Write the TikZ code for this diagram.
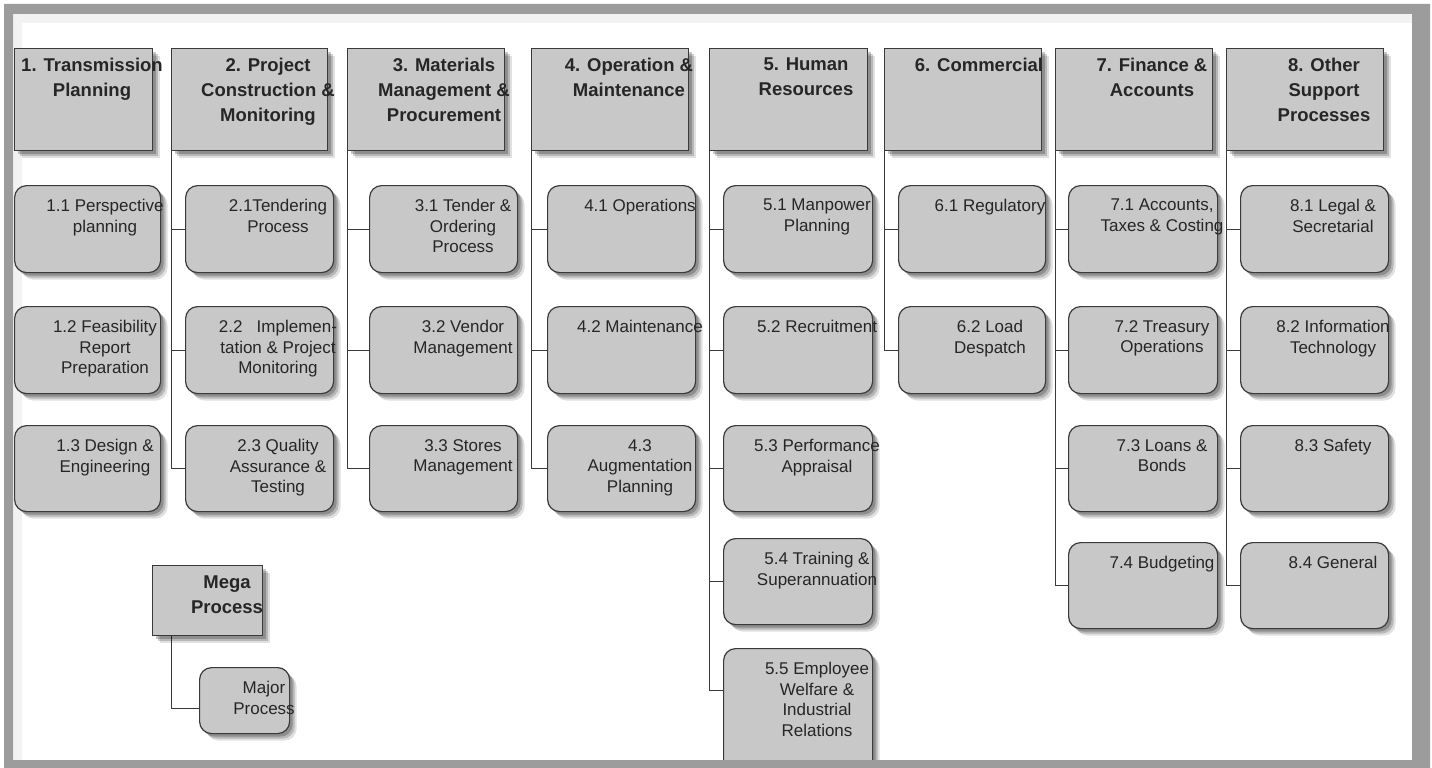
\documentclass[tikz,border=0pt]{standalone}
\usepackage{fontspec}
\setmainfont{Liberation Sans}
\usetikzlibrary{shadows,calc}
\definecolor{boxfill}{HTML}{C8C8C8}
\definecolor{boxline}{HTML}{3A3A3A}
\definecolor{framegray}{HTML}{9C9C9C}
\definecolor{txt}{HTML}{262626}
\pgfdeclarelayer{bg}
\pgfdeclarelayer{fg}
\pgfsetlayers{bg,main,fg}
\tikzset{
  shad/.style={drop shadow={shadow xshift=7pt,shadow yshift=-7pt,opacity=0.12,fill=black},
               drop shadow={shadow xshift=5pt,shadow yshift=-5pt,opacity=0.18,fill=black},
               drop shadow={shadow xshift=3pt,shadow yshift=-3pt,opacity=0.22,fill=black}},
  hdrbox/.style={draw=boxline,line width=1.3pt,fill=boxfill,shad,anchor=north west,inner sep=0pt,minimum height=102pt},
  subbox/.style={draw=boxline,line width=1.2pt,fill=boxfill,rounded corners=12pt,shad,anchor=north west,inner sep=0pt},
  htext/.style={anchor=north,inner sep=0pt,align=center,text=txt,font=\fontsize{18.5}{25}\selectfont\bfseries},
  stext/.style={anchor=north,inner sep=0pt,align=center,text=txt,font=\fontsize{17}{20.5}\selectfont},
  link/.style={draw=boxline,line width=0.9pt},
}
\begin{document}
\begin{tikzpicture}[x=1pt,y=-1pt]
\useasboundingbox (0,0) rectangle (1432,768);

% ---------- header boxes ----------
\node[hdrbox,minimum width=138pt] (h1) at (14,48) {};
\node[hdrbox,minimum width=156pt] (h2) at (171,48) {};
\node[hdrbox,minimum width=157pt] (h3) at (347,48) {};
\node[hdrbox,minimum width=157pt] (h4) at (531,48) {};
\node[hdrbox,minimum width=158pt] (h5) at (709,48) {};
\node[hdrbox,minimum width=157pt] (h6) at (884,48) {};
\node[hdrbox,minimum width=157pt] (h7) at (1055,48) {};
\node[hdrbox,minimum width=157pt] (h8) at (1226,48) {};
\node[hdrbox,minimum width=110pt,minimum height=70pt] (mega) at (152,565) {};

% ---------- sub boxes ----------
\foreach \c/\x/\w in {1/14/146,2/185/148,3/369/148,4/547/148,5/723/149,7/1068/149,8/1240/148}{
  \node[subbox,minimum width=\w pt,minimum height=87pt] (b\c1) at (\x,185) {};
  \node[subbox,minimum width=\w pt,minimum height=87pt] (b\c2) at (\x,306) {};
  \node[subbox,minimum width=\w pt,minimum height=86pt] (b\c3) at (\x,425) {};
}
\node[subbox,minimum width=147pt,minimum height=87pt] (b61) at (898,185) {};
\node[subbox,minimum width=147pt,minimum height=87pt] (b62) at (898,306) {};
\node[subbox,minimum width=149pt,minimum height=86pt] (b54) at (723,538) {};
\node[subbox,minimum width=149pt,minimum height=125pt] (b55) at (723,648) {};
\node[subbox,minimum width=149pt,minimum height=86pt] (b74) at (1068,542) {};
\node[subbox,minimum width=148pt,minimum height=86pt] (b84) at (1240,542) {};
\node[subbox,minimum width=90pt,minimum height=66pt] (major) at (199,667) {};

% ---------- background and connectors ----------
\begin{pgfonlayer}{bg}
\fill[white] (0,0) rectangle (1432,768);
\fill[black!5] (13,14) rectangle (1412,23);
\fill[black!5] (13,14) rectangle (22,760);
\foreach \c in {2,3,4,5,7,8}{
  \draw[link] (h\c.south west) |- (b\c1.west);
  \draw[link] (h\c.south west) |- (b\c2.west);
  \draw[link] (h\c.south west) |- (b\c3.west);
}
\draw[link] (h6.south west) |- (b61.west);
\draw[link] (h6.south west) |- (b62.west);
\draw[link] (h5.south west) |- (b54.west);
\draw[link] (h5.south west) |- ([yshift=-42pt]b55.north west);
\draw[link] (h7.south west) |- (b74.west);
\draw[link] (h8.south west) |- (b84.west);
\draw[link] ([xshift=19pt]mega.south west) |- ([yshift=-41pt]major.north west);
\end{pgfonlayer}

% ---------- header texts ----------
\node[htext] (t1) at (92,58) {1. Transmission\\Planning};
\node[htext] (t2) at (268,58) {2. Project\\Construction \&\\Monitoring};
\node[htext] (t3) at (444,58) {3. Materials\\Management \&\\Procurement};
\node[htext] (t4) at (629,58) {4. Operation \&\\Maintenance};
\node[htext] (t5) at (806,58) {5. Human\\Resources};
\node[htext] (t6) at (979,58) {6. Commercial};
\node[htext] (t7) at (1152,58) {7. Finance \&\\Accounts};
\node[htext] (t8) at (1324,58) {8. Other\\Support\\Processes};
\node[htext] (tm) at (227,576) {Mega\\Process};

% ---------- sub texts ----------
\node[stext] (s11) at (105,199) {1.1 Perspective\\planning};
\node[stext] (s12) at (105,320) {1.2 Feasibility\\Report\\Preparation};
\node[stext] (s13) at (105,439) {1.3 Design \&\\Engineering};
\node[stext] (s21) at (278,199) {2.1Tendering\\Process};
\node[stext] (s22) at (278,320) {2.2\ \ \ Implemen-\\tation \& Project\\Monitoring};
\node[stext] (s23) at (278,439) {2.3 Quality\\Assurance \&\\Testing};
\node[stext] (s31) at (463,199) {3.1 Tender \&\\Ordering\\Process};
\node[stext] (s32) at (463,320) {3.2 Vendor\\Management};
\node[stext] (s33) at (463,439) {3.3 Stores\\Management};
\node[stext] (s41) at (640,199) {4.1 Operations};
\node[stext] (s42) at (640,320) {4.2 Maintenance};
\node[stext] (s43) at (640,439) {4.3\\Augmentation\\Planning};
\node[stext] (s51) at (817,199) {5.1 Manpower\\Planning};
\node[stext] (s52) at (817,320) {5.2 Recruitment};
\node[stext] (s53) at (817,439) {5.3 Performance\\Appraisal};
\node[stext] (s54) at (817,552) {5.4 Training \&\\Superannuation};
\node[stext] (s55) at (817,662) {5.5 Employee\\Welfare \&\\Industrial\\Relations};
\node[stext] (s61) at (990,199) {6.1 Regulatory};
\node[stext] (s62) at (990,320) {6.2 Load\\Despatch};
\node[stext] (s71) at (1162,199) {7.1 Accounts,\\Taxes \& Costing};
\node[stext] (s72) at (1162,320) {7.2 Treasury\\Operations};
\node[stext] (s73) at (1162,439) {7.3 Loans \&\\Bonds};
\node[stext] (s74) at (1162,556) {7.4 Budgeting};
\node[stext] (s81) at (1333,199) {8.1 Legal \&\\Secretarial};
\node[stext] (s82) at (1333,320) {8.2 Information\\Technology};
\node[stext] (s83) at (1333,439) {8.3 Safety};
\node[stext] (s84) at (1333,556) {8.4 General};
\node[stext] (smj) at (264,681) {Major\\Process};

% ---------- frame ----------
\begin{pgfonlayer}{fg}
\fill[framegray,even odd rule] (4,4) rectangle (1430,768) (13,14) rectangle (1412,760);
\end{pgfonlayer}
\end{tikzpicture}
\end{document}
